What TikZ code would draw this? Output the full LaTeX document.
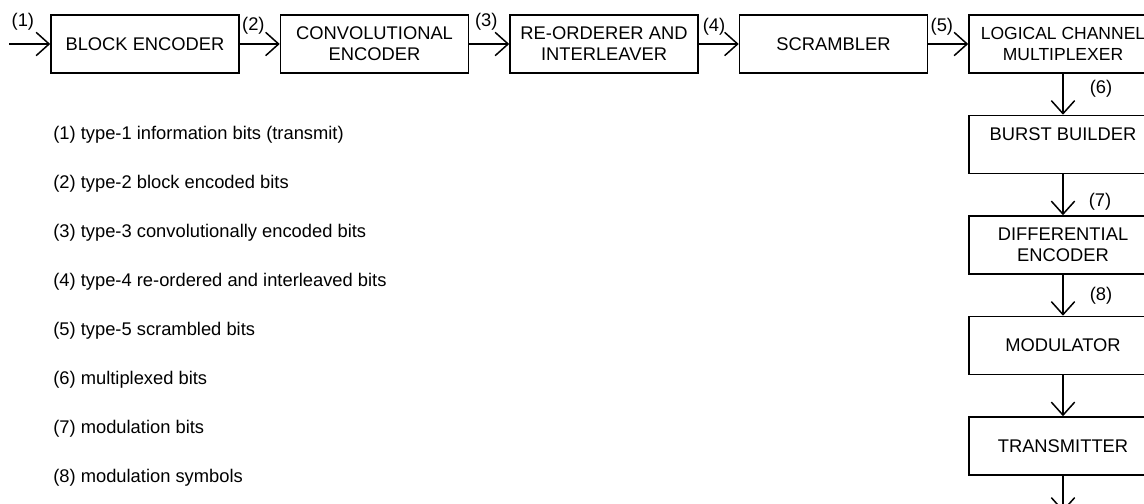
\documentclass[tikz,border=0pt]{standalone}
\usepackage{fontspec}
\setmainfont{Liberation Sans}
\usetikzlibrary{positioning,arrows.meta}
\tikzset{
  block/.style={draw,line width=0.9pt,minimum width=112.8pt,minimum height=34.8pt,align=center,inner sep=2pt,font=\fontsize{11}{12.5}\selectfont},
  legend/.style={anchor=west,inner sep=0pt,font=\fontsize{11}{13}\selectfont},
  lbl/.style={inner sep=1pt,font=\fontsize{11}{13}\selectfont},
  flow/.style={line width=0.9pt,-{Straight Barb[length=7.8pt,width=14pt,line width=0.9pt]}},
}
\begin{document}
\begin{tikzpicture}[x=0.6pt,y=-0.6pt]
  \clip (0,0) rectangle (1144,504);
  \node[block] (blockenc) at (145,44) {BLOCK ENCODER};
  \node[block,right=24pt of blockenc] (convenc) {CONVOLUTIONAL\\ENCODER};
  \node[block,right=24pt of convenc] (reorder) {RE-ORDERER AND\\INTERLEAVER};
  \node[block,right=24pt of reorder] (scrambler) {SCRAMBLER};
  \node[block,right=24pt of scrambler,font=\fontsize{10.5}{12.5}\selectfont] (lcmux) {LOGICAL CHANNEL\\MULTIPLEXER};
  \node[block,below=24.6pt of lcmux] (burst) {BURST BUILDER\\[-4pt]\strut};
  \node[block,below=24.6pt of burst] (diffenc) {DIFFERENTIAL\\ENCODER};
  \node[block,below=24.6pt of diffenc] (modulator) {MODULATOR};
  \node[block,below=24.6pt of modulator] (transmitter) {TRANSMITTER};
  \coordinate[left=24.6pt of blockenc.west] (src);
  \coordinate[below=21.6pt of transmitter.south] (sink);
  \draw[flow] (src) -- node[lbl,pos=0,anchor=south west,yshift=7pt] {(1)} (blockenc);
  \draw[flow] (blockenc) -- node[lbl,pos=0,anchor=south west,yshift=4.6pt] {(2)} (convenc);
  \draw[flow] (convenc) -- node[lbl,pos=0,anchor=south west,xshift=2pt,yshift=7pt] {(3)} (reorder);
  \draw[flow] (reorder) -- node[lbl,pos=0,anchor=south west,xshift=1pt,yshift=4pt] {(4)} (scrambler);
  \draw[flow] (scrambler) -- node[lbl,pos=0,anchor=south west,yshift=3.5pt] {(5)} (lcmux);
  \draw[flow] (lcmux) -- node[lbl,pos=0.37,anchor=west,xshift=14.6pt] {(6)} (burst);
  \draw[flow] (burst) -- node[lbl,pos=0.68,anchor=west,xshift=14pt] {(7)} (diffenc);
  \draw[flow] (diffenc) -- node[lbl,pos=0.51,anchor=west,xshift=14.6pt] {(8)} (modulator);
  \draw[flow] (modulator) -- (transmitter);
  \draw[flow] (transmitter) -- (sink);
  % legend of the numbered signals
  \node[legend] (l1) at (53,135) {(1) type-1 information bits (transmit)};
  \node[below=29.4pt of l1.west,legend] (l2) {(2) type-2 block encoded bits};
  \node[below=29.4pt of l2.west,legend] (l3) {(3) type-3 convolutionally encoded bits};
  \node[below=29.4pt of l3.west,legend] (l4) {(4) type-4 re-ordered and interleaved bits};
  \node[below=29.4pt of l4.west,legend] (l5) {(5) type-5 scrambled bits};
  \node[below=29.4pt of l5.west,legend] (l6) {(6) multiplexed bits};
  \node[below=29.4pt of l6.west,legend] (l7) {(7) modulation bits};
  \node[below=29.4pt of l7.west,legend] (l8) {(8) modulation symbols};
\end{tikzpicture}
\end{document}
